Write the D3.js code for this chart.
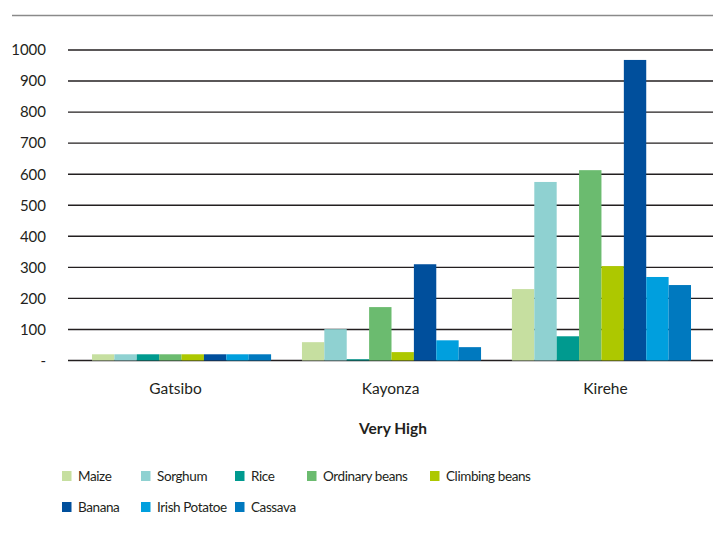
<!DOCTYPE html>
<html>
<head>
<meta charset="utf-8">
<script src="https://cdn.jsdelivr.net/npm/d3@7"></script>
<style>
  body { margin: 0; background: #fff; }
  svg { display: block; font-family: Lato, "Open Sans", sans-serif; }
</style>
</head>
<body>
<svg id="chart" width="713" height="534"></svg>
<script>
const categories = ["Gatsibo", "Kayonza", "Kirehe"];
const seriesNames = ["Maize", "Sorghum", "Rice", "Ordinary beans", "Climbing beans", "Banana", "Irish Potatoe", "Cassava"];
const maize         = [20, 59, 230];
const sorghum       = [20, 101, 575];
const rice          = [20, 4, 78];
const ordinaryBeans = [20, 172, 613];
const climbingBeans = [20, 27, 304];
const banana        = [20, 310, 968];
const irishPotatoe  = [20, 65, 269];
const cassava       = [20, 43, 243];
const seriesValues = [maize, sorghum, rice, ordinaryBeans, climbingBeans, banana, irishPotatoe, cassava];
const colors = ["#c6dfa0", "#8fd1d1", "#009a8f", "#6bbb6f", "#adc800", "#004f9c", "#009fde", "#0079bf"];
const yTicks = [0, 100, 200, 300, 400, 500, 600, 700, 800, 900, 1000];
const yTickLabels = ["-", "100", "200", "300", "400", "500", "600", "700", "800", "900", "1000"];
const xTitle = "Very High";

(function () {
const svg = d3.select("#chart");
const mLeft = 68, mRight = 713, mTop = 50, mBottom = 360.5;
const font = "Lato, 'Open Sans', sans-serif";

// top rule
svg.append("line").attr("x1", 12).attr("x2", 713).attr("y1", 15.5).attr("y2", 15.5)
  .attr("stroke", "#8a8a8a").attr("stroke-width", 1.5);

const x = d3.scaleBand().domain(categories).range([71, 712]).paddingInner(0.147).paddingOuter(0.1);
const x1 = d3.scaleBand().domain(seriesNames).range([0, x.bandwidth()]).padding(0);
const y = d3.scaleLinear().domain([0, 1000]).range([mBottom, mTop]);

// gridlines
svg.append("g").selectAll("line").data(yTicks).join("line")
  .attr("x1", mLeft).attr("x2", mRight)
  .attr("y1", d => y(d)).attr("y2", d => y(d))
  .attr("stroke", "#231f20").attr("stroke-width", 1.4);

// y labels
const yAxis = d3.axisLeft(y).tickValues(yTicks).tickSize(0).tickPadding(0)
  .tickFormat((d, i) => yTickLabels[i]);
const yg = svg.append("g").attr("transform", `translate(46,0)`).call(yAxis);
yg.select(".domain").remove();
yg.selectAll("text").attr("font-size", 15).attr("fill", "#231f20")
  .attr("font-family", font);

// bars
const groups = svg.append("g").selectAll("g").data(categories).join("g")
  .attr("transform", d => `translate(${x(d)},0)`);
groups.selectAll("rect")
  .data((c, ci) => seriesNames.map((s, si) => ({ s, v: seriesValues[si][ci], color: colors[si] })))
  .join("rect")
  .attr("x", d => x1(d.s))
  .attr("width", x1.bandwidth())
  .attr("y", d => y(d.v))
  .attr("height", d => y(0) - y(d.v))
  .attr("fill", d => d.color);

// x labels
const xs = d3.scaleBand().domain(categories).range([mLeft, mRight]);
const xAxis = d3.axisBottom(xs).tickSize(0).tickPadding(0);
const xg = svg.append("g").attr("transform", `translate(0,${mBottom + 22})`).call(xAxis);
xg.select(".domain").remove();
xg.selectAll("text").attr("font-size", 15.5).attr("fill", "#231f20")
  .attr("font-family", font);

svg.append("text").attr("x", 393).attr("y", 434).attr("text-anchor", "middle")
  .attr("font-size", 15.5).attr("font-weight", "bold").attr("fill", "#231f20").text(xTitle);

// legend
const legendPos = [[62, 476], [141, 476], [235, 476], [307, 476], [430, 476], [62, 507], [141, 507], [235, 507]];
const lg = svg.append("g").selectAll("g").data(seriesNames).join("g")
  .attr("transform", (d, i) => `translate(${legendPos[i][0]},${legendPos[i][1]})`);
lg.append("rect").attr("x", 0).attr("y", -5).attr("width", 9.5).attr("height", 10)
  .attr("fill", (d, i) => colors[i]);
lg.append("text").attr("x", 16).attr("y", 0).attr("dy", "0.35em")
  .attr("font-size", 13.5).attr("letter-spacing", "-0.4px")
  .attr("fill", "#231f20").text(d => d);
})();
</script>
</body>
</html>
